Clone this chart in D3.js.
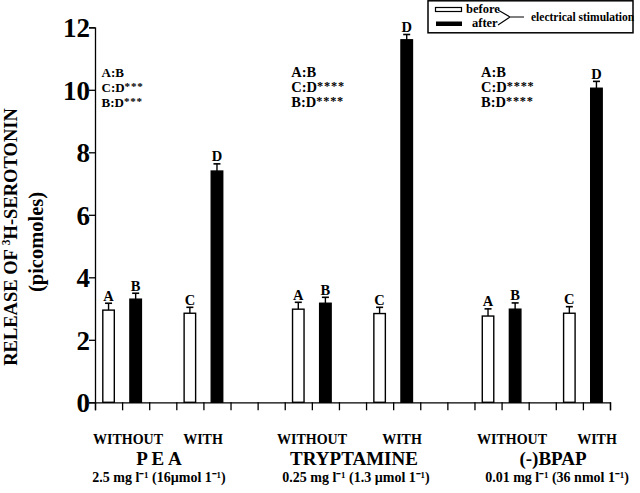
<!DOCTYPE html>
<html><head><meta charset="utf-8">
<script src="https://cdn.jsdelivr.net/npm/d3@7"></script>
<style>body{margin:0;background:#fff}svg{display:block}text{font-family:"Liberation Serif","Times New Roman",serif;font-weight:bold}</style>
</head><body><div id="c"></div>
<script>
const groups = ["PEA", "TRYPTAMINE", "(-)BPAP"];
const groupTitles = ["P E A", "TRYPTAMINE", "(-)BPAP"];
const doses = ["2.5 mg l\u207B\u00B9  (16\u00B5mol 1\u207B\u00B9)", "0.25 mg l\u207B\u00B9 (1.3 \u00B5mol 1\u207B\u00B9)", "0.01 mg l\u207B\u00B9 (36 nmol 1\u207B\u00B9)"];
const conditions = ["WITHOUT", "WITH"];
const barLetters = ["A", "B", "C", "D"];
// per group: [without-before, without-after, with-before, with-after]
const means = [
  [2.95, 3.30, 2.85, 7.40],
  [2.98, 3.17, 2.84, 11.60],
  [2.76, 2.98, 2.85, 10.05]
];
const errors = [
  [0.22, 0.19, 0.19, 0.23],
  [0.22, 0.19, 0.20, 0.17],
  [0.23, 0.20, 0.21, 0.22]
];
const stats = [
  ["A:B", "C:D***", "B:D***"],
  ["A:B", "C:D****", "B:D****"],
  ["A:B", "C:D****", "B:D****"]
];
const yTicks = [0, 2, 4, 6, 8, 10, 12];
const legendLabels = ["before", "after"];
const legendNote = "electrical stimulation";

// layout (not data)
const statFont = [13, 14.5, 14.5];
const withoutCx = [128, 312, 512];
const withCx = [203, 402, 597];
const titleCx = [159, 354, 553];
const doseCx = [159, 356, 557];

const W = 640, H = 493;
const svg = d3.select("#c").append("svg").attr("width", W).attr("height", H);

const y = d3.scaleLinear().domain([0, 12]).range([402.3, 27.3]);
const slotsPerGroup = 7, nSlots = 19;
const x = d3.scaleLinear().domain([0, nSlots]).range([95, 610]);
const slotW = x(1) - x(0);
const barW = 11.5;
const slotOffset = [0, 1, 3, 4];
const fills = ["#fff", "#000", "#fff", "#000"];

const yAxis = d3.axisLeft(y).tickValues(yTicks).tickSize(6).tickFormat(d3.format("d"));
const gy = svg.append("g").attr("transform", "translate(95,0)").call(yAxis);
gy.select(".domain").attr("stroke", "#000").attr("stroke-width", 1.3);
gy.selectAll(".tick line").attr("stroke-width", 1.3);
gy.selectAll(".tick text").attr("font-size", 27).attr("font-family", "Liberation Serif").attr("font-weight", "bold").attr("x", -5).attr("dy", "0.35em");

const xAxis = d3.axisBottom(x).tickValues(d3.range(0, nSlots + 1)).tickSize(8).tickFormat("");
const gx = svg.append("g").attr("transform", "translate(0,402.3)").call(xAxis);
gx.select(".domain").attr("stroke-width", 1.3);
gx.selectAll(".tick line").attr("stroke-width", 1.3);

const bars = [];
groups.forEach((g, gi) => {
  means[gi].forEach((m, bi) => {
    const slot = gi * slotsPerGroup + slotOffset[bi];
    bars.push({gi, bi, m, e: errors[gi][bi], cx: x(slot) + slotW / 2});
  });
});
const bg = svg.append("g");
bg.selectAll("line.err").data(bars).join("line").attr("class", "err")
  .attr("x1", d => d.cx).attr("x2", d => d.cx)
  .attr("y1", d => y(d.m)).attr("y2", d => y(d.m + d.e))
  .attr("stroke", "#000").attr("stroke-width", 1.4);
bg.selectAll("line.cap").data(bars).join("line").attr("class", "cap")
  .attr("x1", d => d.cx - 3.5).attr("x2", d => d.cx + 3.5)
  .attr("y1", d => y(d.m + d.e)).attr("y2", d => y(d.m + d.e))
  .attr("stroke", "#000").attr("stroke-width", 1.6);
bg.selectAll("rect").data(bars).join("rect")
  .attr("x", d => d.cx - barW / 2).attr("width", barW)
  .attr("y", d => y(d.m)).attr("height", d => y(0) - y(d.m))
  .attr("fill", d => fills[d.bi]).attr("stroke", "#000").attr("stroke-width", 1.4);
bg.selectAll("text").data(bars).join("text")
  .attr("x", d => d.cx).attr("y", d => y(d.m + d.e) - 2.5)
  .attr("text-anchor", "middle").attr("font-size", 14.5).text(d => barLetters[d.bi]);

groups.forEach((g, gi) => {
  const x0 = x(gi * slotsPerGroup) + 6.5;
  stats[gi].forEach((s, si) => {
    const t = svg.append("text").attr("x", x0).attr("y", 77 + si * 14.8).attr("font-size", statFont[gi]);
    const m = s.match(/^([^*]*)(\**)$/);
    t.append("tspan").text(m[1]);
    if (m[2]) t.append("tspan").attr("font-size", statFont[gi] * 0.85).attr("dy", -2).attr("letter-spacing", 0.8).text(m[2]);
  });
  svg.append("text").attr("x", withoutCx[gi]).attr("y", 444).attr("text-anchor", "middle").attr("font-size", 14).text(conditions[0]);
  svg.append("text").attr("x", withCx[gi]).attr("y", 444).attr("text-anchor", "middle").attr("font-size", 14).text(conditions[1]);
  svg.append("text").attr("x", titleCx[gi]).attr("y", 465).attr("text-anchor", "middle").attr("font-size", 19).text(groupTitles[gi]);
  svg.append("text").attr("x", doseCx[gi]).attr("y", 482).attr("text-anchor", "middle").attr("font-size", 14).text(doses[gi]);
});

svg.append("text").attr("transform", "translate(17,237) rotate(-90)").attr("text-anchor", "middle").attr("font-size", 18.5)
  .html('RELEASE OF <tspan font-size="11.5" dy="-7">3</tspan><tspan dy="7">H-SEROTONIN</tspan>');
svg.append("text").attr("transform", "translate(43,242) rotate(-90)").attr("text-anchor", "middle").attr("font-size", 20.5).text("(picomoles)");

const lg = svg.append("g");
lg.append("rect").attr("x", 428).attr("y", 0.8).attr("width", 205).attr("height", 32).attr("fill", "none").attr("stroke", "#000").attr("stroke-width", 1.5);
lg.append("rect").attr("x", 435.5).attr("y", 7.5).attr("width", 26).attr("height", 4).attr("fill", "#fff").attr("stroke", "#000").attr("stroke-width", 1.2);
lg.append("rect").attr("x", 436).attr("y", 21.5).attr("width", 26).attr("height", 4.5).attr("fill", "#000");
lg.append("text").attr("x", 466).attr("y", 13).attr("font-size", 12.5).text(legendLabels[0]);
lg.append("text").attr("x", 472).attr("y", 27).attr("font-size", 12.5).text(legendLabels[1]);
lg.append("path").attr("d", "M498,10 L510,17 L498,25 M510,17 L524,17").attr("fill", "none").attr("stroke", "#000").attr("stroke-width", 1.1);
lg.append("text").attr("x", 531).attr("y", 20.5).attr("font-size", 11.5).text(legendNote);
</script></body></html>
